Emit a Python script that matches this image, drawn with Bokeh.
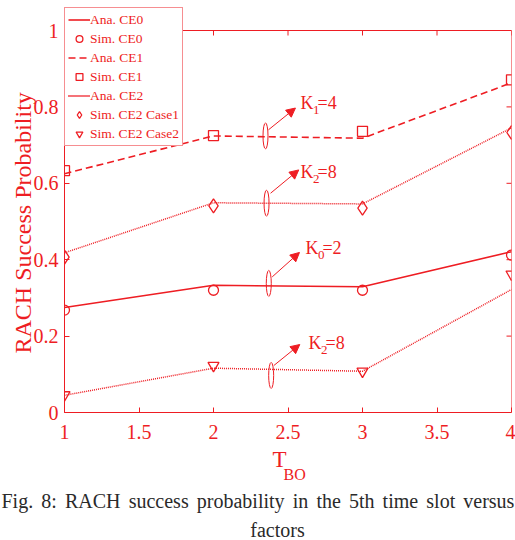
from bokeh.plotting import figure
from bokeh.layouts import column
from bokeh.models import (Range1d, Legend, LegendItem, Arrow, NormalHead, Title,
                          FixedTicker, ColumnDataSource)
from bokeh.core.properties import value
from bokeh.embed import file_html
from bokeh.resources import INLINE

# ---------------- data ----------------
x_tbo = [1, 2, 3, 4]
ana_ce0 = [0.275, 0.333, 0.329, 0.421]
sim_ce0 = [0.268, 0.320, 0.320, 0.412]
ana_ce1 = [0.625, 0.724, 0.718, 0.863]
sim_ce1 = [0.633, 0.725, 0.736, 0.871]
ana_ce2_case1 = [0.418, 0.549, 0.546, 0.745]
sim_ce2_case1 = [0.407, 0.541, 0.535, 0.733]
ana_ce2_case2 = [0.045, 0.116, 0.108, 0.322]
sim_ce2_case2 = [0.046, 0.123, 0.108, 0.362]

x_ticks = [1, 1.5, 2, 2.5, 3, 3.5, 4]
x_tick_labels = ["1", "1.5", "2", "2.5", "3", "3.5", "4"]
y_ticks = [0, 0.2, 0.4, 0.6, 0.8, 1]
y_tick_labels = ["0", "0.2", "0.4", "0.6", "0.8", "1"]

# annotations (ellipse marking a curve + arrow + K label)
ann_ell_x = [2.349, 2.356, 2.371, 2.387]
ann_ell_y = [0.724, 0.548, 0.338, 0.097]
ann_arrow_x0 = [2.369, 2.383, 2.394, 2.405]
ann_arrow_y0 = [0.740, 0.574, 0.355, 0.123]
ann_arrow_x1 = [2.550, 2.572, 2.577, 2.579]
ann_arrow_y1 = [0.797, 0.635, 0.419, 0.178]
ann_label_x = [2.584, 2.584, 2.617, 2.638]
ann_label_y = [0.811, 0.630, 0.430, 0.181]
ann_sub = ["1", "2", "0", "2"]
ann_val = ["=4", "=8", "=2", "=8"]

y_title = "RACH Success Probability"
x_title_main = "T"
x_title_sub = "BO"
caption_words = ["Fig.", "8:", "RACH", "success", "probability", "in", "the",
                 "5th", "time", "slot", "versus"]
caption_line2 = "factors"

RED = "#ee1d23"
FONT = "Liberation Serif"
CAP = "#2a2a2a"

# ---------------- main chart ----------------
p = figure(width=515, height=448, x_range=Range1d(1, 4), y_range=Range1d(0, 407 / 382.0),
           output_backend="svg", toolbar_location=None,
           min_border_left=64, min_border_right=4, min_border_top=5,
           min_border_bottom=36)
p.frame_align = False
p.grid.visible = False
p.outline_line_color = None
p.background_fill_color = "white"
p.border_fill_color = "white"


def style_axis(ax, ticks, labels, standoff):
    ax.ticker = FixedTicker(ticks=ticks)
    ax.major_label_overrides = {t: l for t, l in zip(ticks, labels)}
    ax.major_tick_in = 5
    ax.major_tick_out = 0
    ax.minor_tick_line_color = None
    ax.axis_line_color = RED
    ax.major_tick_line_color = RED
    ax.major_label_text_color = RED
    ax.major_label_text_font = FONT
    ax.major_label_text_font_size = "20px"
    ax.major_label_standoff = standoff


style_axis(p.xaxis[0], x_ticks, x_tick_labels, 12)
style_axis(p.yaxis[0], y_ticks, y_tick_labels, 6)
p.yaxis[0].bounds = (y_ticks[0], y_ticks[-1])

p.add_layout(Title(text=y_title, align="left", offset=59, standoff=-10,
                   text_font=FONT, text_font_size="24px", text_font_style="normal",
                   text_color=RED), "left")

# box: top and right edges with inward ticks
p.segment(x0=[x_ticks[0], x_ticks[-1]], y0=[y_ticks[-1], y_ticks[0]],
          x1=[x_ticks[-1], x_ticks[-1]], y1=[y_ticks[-1], y_ticks[-1]],
          line_color=RED, line_width=1)
p.ray(x=x_ticks, y=[y_ticks[-1]] * len(x_ticks), length=5, length_units="screen",
      angle=-90, angle_units="deg", line_color=RED, line_width=1)
p.ray(x=[x_ticks[-1]] * len(y_ticks), y=y_ticks, length=5, length_units="screen",
      angle=180, angle_units="deg", line_color=RED, line_width=1)

# ---------------- series ----------------
r_ana0 = p.line(x_tbo, ana_ce0, line_color=RED, line_width=1.6)
r_sim0 = p.scatter(x_tbo, sim_ce0, marker="circle", size=10, line_color=RED,
                   fill_color=None, line_width=1.3)
r_ana1 = p.line(x_tbo, ana_ce1, line_color=RED, line_width=1.6, line_dash="7 4")
r_sim1 = p.scatter(x_tbo, sim_ce1, marker="square", size=10, line_color=RED,
                   fill_color=None, line_width=1.3)
r_ana2a = p.line(x_tbo, ana_ce2_case1, line_color=RED, line_width=1.5, line_dash="1 1")
r_ana2b = p.line(x_tbo, ana_ce2_case2, line_color=RED, line_width=1.5, line_dash="1 1")
r_sim2a = p.scatter(x_tbo, sim_ce2_case1, marker="diamond", size=14, line_color=RED,
                    fill_color=None, line_width=1.3)
r_sim2b = p.scatter(x_tbo, sim_ce2_case2, marker="inverted_triangle", size=11,
                    line_color=RED, fill_color=None, line_width=1.3)

# ---------------- annotations ----------------
p.ellipse(x=ann_ell_x, y=ann_ell_y, width=5, height=26, width_units="screen",
          height_units="screen", fill_color=None, line_color=RED, line_width=1)
arr_src = ColumnDataSource(dict(x0=ann_arrow_x0, y0=ann_arrow_y0,
                                x1=ann_arrow_x1, y1=ann_arrow_y1))
p.add_layout(Arrow(source=arr_src, x_start="x0", y_start="y0", x_end="x1", y_end="y1",
                   line_color=RED, line_width=1,
                   end=NormalHead(size=9, fill_color=RED, line_color=RED, line_width=1)))
p.text(x=ann_label_x, y=ann_label_y, text=["K"] * 4, text_font=value(FONT),
       text_font_size=value("18px"), text_color=RED, text_baseline="middle",
       text_align="left")
p.text(x=ann_label_x, y=ann_label_y, text=ann_sub, text_font=value(FONT),
       text_font_size=value("13px"), text_color=RED, text_baseline="middle",
       text_align="left", x_offset=12.5, y_offset=7)
p.text(x=ann_label_x, y=ann_label_y, text=ann_val, text_font=value(FONT),
       text_font_size=value("18px"), text_color=RED, text_baseline="middle",
       text_align="left", x_offset=17)

# ---------------- legend ----------------
legend = Legend(items=[
    LegendItem(label="Ana. CE0", renderers=[r_ana0]),
    LegendItem(label="Sim. CE0", renderers=[r_sim0]),
    LegendItem(label="Ana. CE1", renderers=[r_ana1]),
    LegendItem(label="Sim. CE1", renderers=[r_sim1]),
    LegendItem(label="Ana. CE2", renderers=[r_ana2a, r_ana2b]),
    LegendItem(label="Sim. CE2 Case1", renderers=[r_sim2a]),
    LegendItem(label="Sim. CE2 Case2", renderers=[r_sim2b]),
], location=(0, 266))
legend.border_line_color = RED
legend.border_line_width = 1
legend.background_fill_color = "white"
legend.background_fill_alpha = 1
legend.label_text_font = FONT
legend.label_text_font_size = "13.5px"
legend.label_text_color = RED
legend.glyph_width = 22
legend.glyph_height = 17
legend.label_height = 17
legend.spacing = 2
legend.padding = 3
legend.margin = 0
legend.label_standoff = 0
p.add_layout(legend)

# ---------------- x title and caption (text panel below) ----------------
p2 = figure(width=515, height=92, x_range=Range1d(0, 515), y_range=Range1d(540, 448),
            output_backend="svg", toolbar_location=None, x_axis_type=None,
            y_axis_type=None, min_border=0)
p2.frame_align = False
p2.grid.visible = False
p2.outline_line_color = None
p2.background_fill_color = "white"
p2.border_fill_color = "white"

p2.text(x=[272], y=[459], text=[x_title_main], text_font=value(FONT),
        text_font_size=value("23px"), text_color=RED, text_baseline="middle",
        text_align="left")
p2.text(x=[283], y=[474], text=[x_title_sub], text_font=value(FONT),
        text_font_size=value("16px"), text_color=RED, text_baseline="middle",
        text_align="left")
caption_x = [1, 40.8, 64.5, 128.2, 196.3, 292.2, 315.9, 348.4, 382.1, 425.8, 462.8]
p2.text(x=caption_x, y=[500.5] * len(caption_words), text=caption_words,
        text_font=value(FONT), text_font_size=value("20px"), text_color=CAP,
        text_baseline="alphabetic", text_align="left")
p2.text(x=[277], y=[540], text=[caption_line2], text_font=value(FONT),
        text_font_size=value("20px"), text_color=CAP, text_baseline="bottom",
        text_align="center")

layout = column(p, p2, spacing=0)
open("out.html", "w").write(file_html(layout, INLINE))
